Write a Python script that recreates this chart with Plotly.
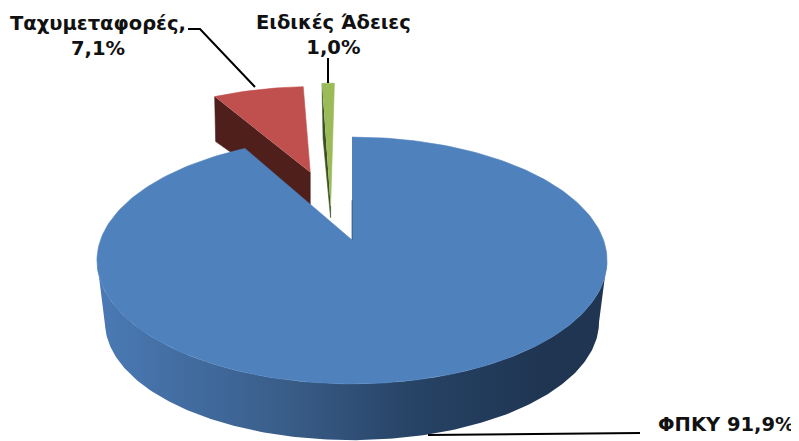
import math
import plotly.graph_objects as go

# Data (shares, %)
categories = ["ΦΠΚΥ", "Ταχυμεταφορές", "Ειδικές Άδειες"]
shares = [91.9, 7.1, 1.0]
label_texts = ["ΦΠΚΥ 91,9%", "Ταχυμεταφορές,<br>7,1%", "Ειδικές Άδειες<br>1,0%"]

# Pie projection parameters (pixel scale of the axes)
CX, P = 352.0, 0.166
TOP = dict(a=251.5, b=120.0, y0=240.0)
BOT = dict(a=243.6, b=114.8, y0=302.5)
PAGE = 8  # page body margin in the browser


def proj(X, Y, f):
    d = 1 + P * Y
    return CX + f["a"] * X / d, f["y0"] - f["b"] * Y / d


def rim(t0, t1, n, f, sx=0.0, sy=0.0):
    pts = []
    for i in range(n + 1):
        t = math.radians(t0 + (t1 - t0) * i / n)
        pts.append(proj(math.sin(t) + sx, math.cos(t) + sy, f))
    return pts


def poly(pts, color, lw=0.6):
    return go.Scatter(
        x=[p[0] for p in pts], y=[p[1] for p in pts], mode="lines", fill="toself",
        fillcolor=color, line=dict(color=color, width=lw), hoverinfo="skip", showlegend=False,
    )


# Angles: slices run clockwise from 12 o'clock
blue_end = 360 * shares[0] / 100
red_end = blue_end + 360 * shares[1] / 100
green_end = red_end + 360 * shares[2] / 100

fig = go.Figure()

# Exploded red slice
red_dir = math.radians((blue_end + red_end) / 2)
EXPL = 0.65
rx, ry = EXPL * math.sin(red_dir), EXPL * math.cos(red_dir)
red_top = rim(blue_end - 0.7, red_end, 16, TOP, rx, ry)
apex_r = proj(rx, ry, TOP)
left_r = red_top[0]
fig.add_trace(poly([left_r, (left_r[0] + 1, left_r[1] + 45), (apex_r[0], apex_r[1] + 36), apex_r],
                   "#4f1f1c"))
fig.add_trace(poly(red_top + [apex_r], "#c0504d"))

# Exploded green slice
green_dir = math.radians(352.4)
gx, gy = 0.675 * math.sin(green_dir), 0.675 * math.cos(green_dir)
green_top = rim(red_end, green_end, 4, TOP, gx, gy)
apex_g = proj(gx, 0.30, TOP)
left_g = green_top[0]
fig.add_trace(poly([left_g, (left_g[0] + 1, left_g[1] + 55), (apex_g[0], apex_g[1] + 12), apex_g],
                   "#3c5020"))
fig.add_trace(poly(green_top + [apex_g], "#9bbb59"))

# Blue outer wall between the two silhouette tangents, with a horizontal gradient
t_side = math.degrees(math.acos(-P))
wall = rim(t_side, 360 - t_side, 200, TOP) + rim(t_side, 360 - t_side, 200, BOT)[::-1]
fig.add_trace(go.Scatter(
    x=[p[0] for p in wall], y=[p[1] for p in wall], mode="lines", fill="toself",
    line=dict(width=0, color="rgba(0,0,0,0)"),
    fillgradient=dict(
        type="horizontal",
        colorscale=[[0, "#4a7ab5"], [0.36, "#3a5e8a"], [0.63, "#264264"], [0.88, "#1f3552"], [1, "#1f3552"]],
    ),
    hoverinfo="skip", showlegend=False,
))

# Blue top face
fig.add_trace(poly(rim(0, blue_end, 240, TOP) + [proj(0, 0, TOP)], "#4f81bd"))

# Inner cut edge of the blue slice
cut = [proj(0, 0, TOP), proj(0, 0.35, TOP)]
fig.add_trace(go.Scatter(x=[p[0] for p in cut], y=[p[1] for p in cut], mode="lines",
                         line=dict(color="rgba(31,53,82,0.6)", width=1),
                         hoverinfo="skip", showlegend=False))

# Leader lines
leaders = [
    ([428, 640], [435, 433]),
    ([188, 200, 255], [29, 29, 87]),
    ([328, 328], [58, 83]),
]
for lx, ly in leaders:
    fig.add_trace(go.Scatter(x=lx, y=ly, mode="lines", line=dict(color="black", width=2),
                             hoverinfo="skip", showlegend=False))

# Labels
FONT = dict(family="DejaVu Sans", size=19.5, color="#111111")
label_pos = [(726, 424), (98, 36), (333, 35)]
for txt, (x, y) in zip(label_texts, label_pos):
    fig.add_annotation(x=x, y=y, text="<b>%s</b>" % txt, showarrow=False, font=FONT,
                       xanchor="center", yanchor="middle", align="center")

fig.update_layout(
    width=799 - PAGE, height=441 - PAGE, margin=dict(l=0, r=0, t=0, b=0),
    paper_bgcolor="white", plot_bgcolor="white", showlegend=False,
    xaxis=dict(range=[PAGE, 799], visible=False, fixedrange=True),
    yaxis=dict(range=[441, PAGE], visible=False, fixedrange=True),
)
fig.write_html("out.html", config=dict(displayModeBar=False))
